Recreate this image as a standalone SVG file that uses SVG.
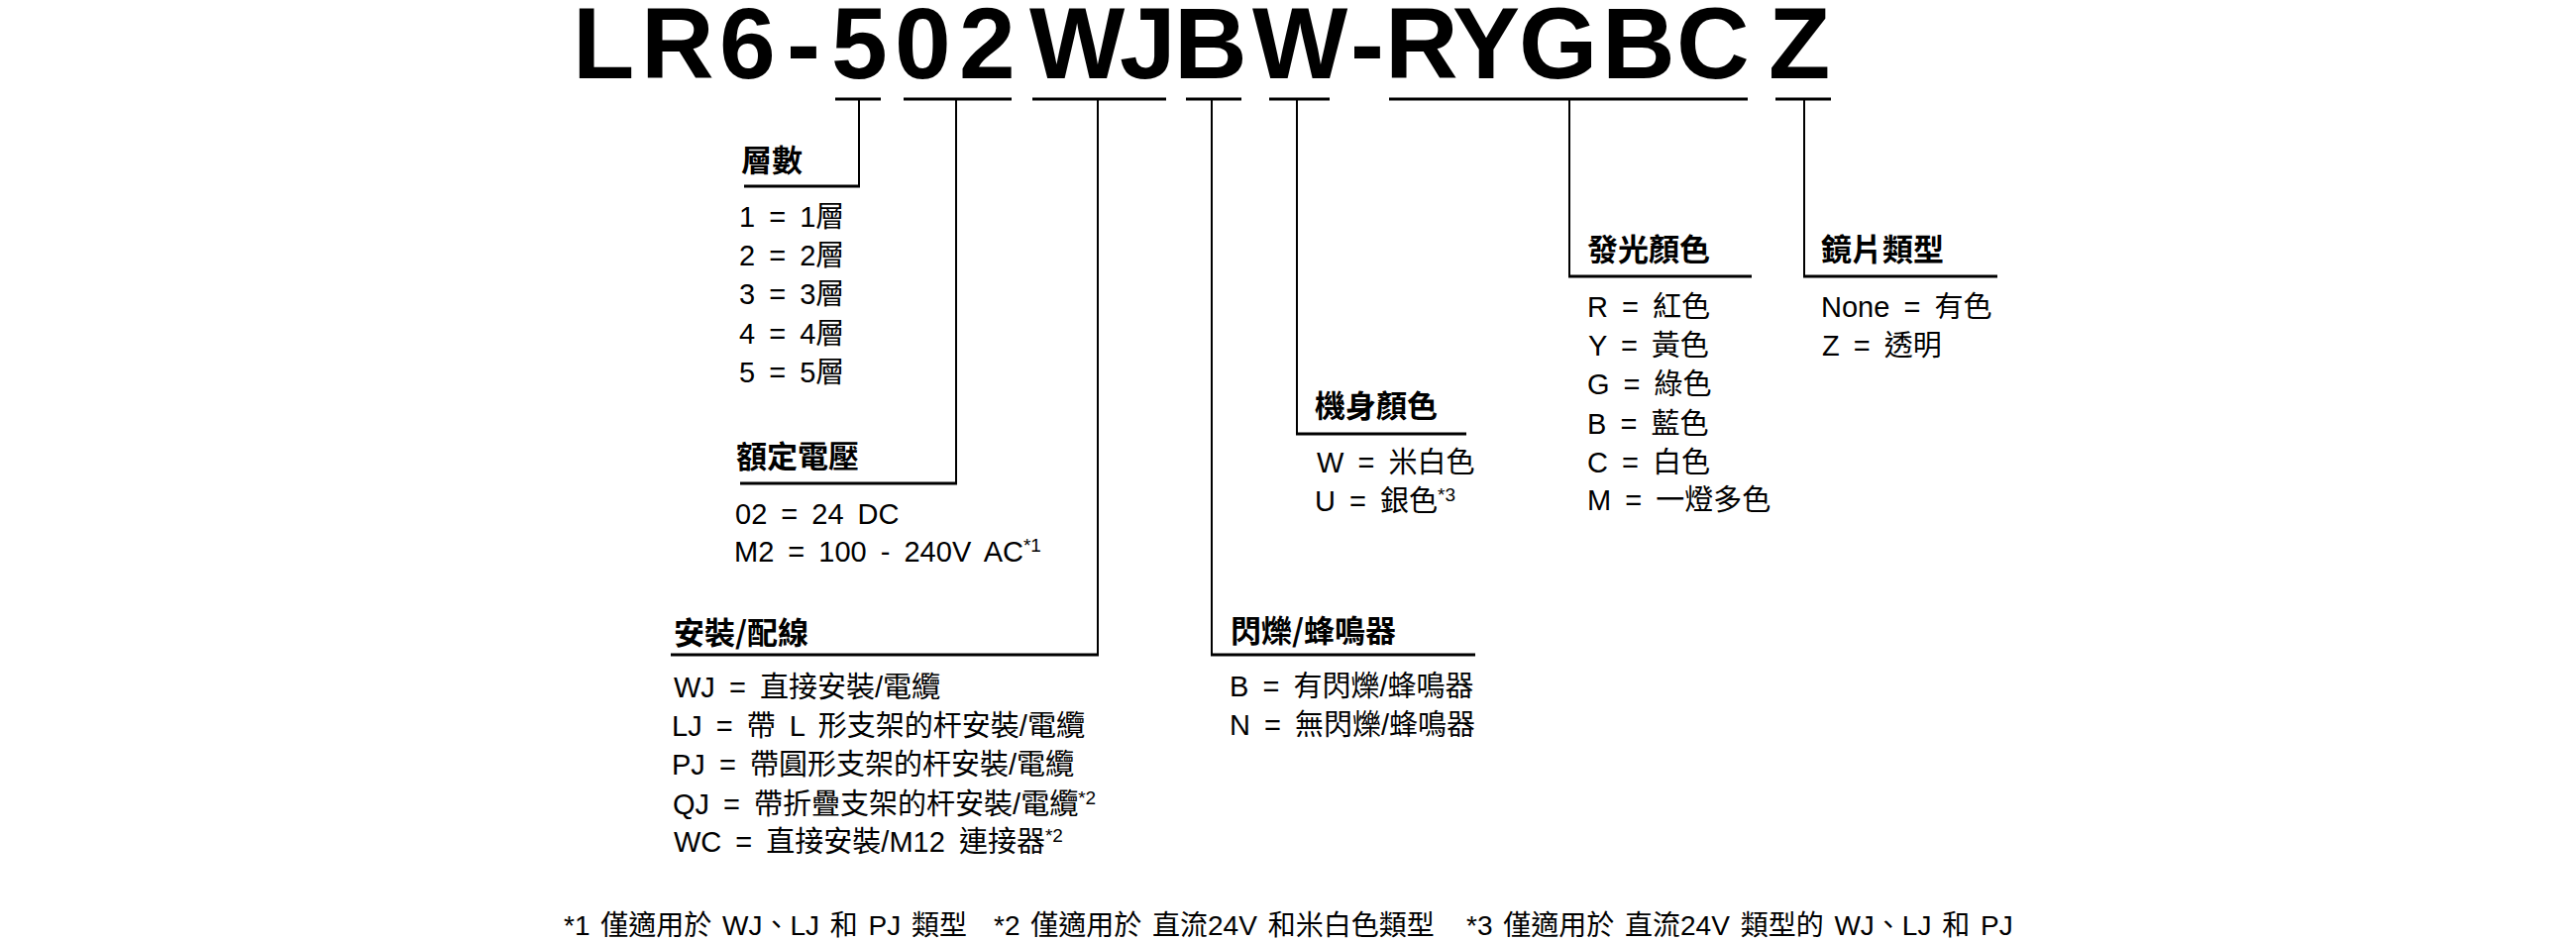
<svg xmlns="http://www.w3.org/2000/svg" width="2600" height="950" viewBox="0 0 2600 950">
<style>
  .title { font-family: "Liberation Sans", Arial, sans-serif; font-weight: bold; font-size: 102px; fill: #000; }
  .head { font-family: "Noto Sans CJK TC", "Liberation Sans", sans-serif; font-weight: bold; font-size: 31px; fill: #000; }
  .item { font-family: "Liberation Sans", "Noto Sans CJK TC", sans-serif; font-size: 29px; word-spacing: 6px; fill: #000; }
  .sup { font-size: 19px; }
  .note { font-family: "Liberation Sans", "Noto Sans CJK TC", sans-serif; font-size: 28px; word-spacing: 3px; fill: #000; }
  .bar { stroke: #000; stroke-width: 3; fill: none; }
  .vert { stroke: #000; stroke-width: 2; fill: none; }
  .under { stroke: #000; stroke-width: 3; fill: none; }
</style>
<rect width="2600" height="950" fill="#fff"/>

<g id="title">
  <text class="title" x="578 647 726 794 839 903 968 1039 1130 1185 1264 1363 1398 1466 1533 1617 1692 1785" y="79">LR6-502WJBW-RYGBCZ</text>
</g>

<g id="connectors">
  <line class="bar" x1="843" y1="100" x2="889" y2="100"/>
  <line class="bar" x1="912" y1="100" x2="1021" y2="100"/>
  <line class="bar" x1="1042" y1="100" x2="1177" y2="100"/>
  <line class="bar" x1="1197" y1="100" x2="1253" y2="100"/>
  <line class="bar" x1="1281" y1="100" x2="1342" y2="100"/>
  <line class="bar" x1="1402" y1="100" x2="1764" y2="100"/>
  <line class="bar" x1="1792" y1="100" x2="1848" y2="100"/>

  <line class="vert" x1="867" y1="100" x2="867" y2="189"/>
  <line class="vert" x1="965" y1="100" x2="965" y2="489"/>
  <line class="vert" x1="1108" y1="100" x2="1108" y2="662"/>
  <line class="vert" x1="1223" y1="100" x2="1223" y2="662"/>
  <line class="vert" x1="1309" y1="100" x2="1309" y2="439"/>
  <line class="vert" x1="1584" y1="100" x2="1584" y2="280"/>
  <line class="vert" x1="1821" y1="100" x2="1821" y2="280"/>

  <line class="under" x1="751" y1="188" x2="868" y2="188"/>
  <line class="under" x1="747" y1="488" x2="966" y2="488"/>
  <line class="under" x1="677" y1="661" x2="1109" y2="661"/>
  <line class="under" x1="1222" y1="661" x2="1489" y2="661"/>
  <line class="under" x1="1308" y1="438" x2="1480" y2="438"/>
  <line class="under" x1="1583" y1="279" x2="1768" y2="279"/>
  <line class="under" x1="1820" y1="279" x2="2016" y2="279"/>
</g>

<g id="layers">
  <text class="head" x="748" y="173">層數</text>
  <text class="item" x="746" y="229">1 = 1層</text>
  <text class="item" x="746" y="268">2 = 2層</text>
  <text class="item" x="746" y="307">3 = 3層</text>
  <text class="item" x="746" y="347">4 = 4層</text>
  <text class="item" x="746" y="386">5 = 5層</text>
</g>

<g id="voltage">
  <text class="head" x="743" y="472">額定電壓</text>
  <text class="item" x="742" y="529">02 = 24 DC</text>
  <text class="item" x="741" y="567">M2 = 100 - 240V AC<tspan class="sup" dy="-10">*1</tspan></text>
</g>

<g id="mounting">
  <text class="head" x="680" y="650">安裝/配線</text>
  <text class="item" x="680" y="704">WJ = 直接安裝/電纜</text>
  <text class="item" x="678" y="743">LJ = 帶 L 形支架的杆安裝/電纜</text>
  <text class="item" x="678" y="782">PJ = 帶圓形支架的杆安裝/電纜</text>
  <text class="item" x="679" y="822">QJ = 帶折疊支架的杆安裝/電纜<tspan class="sup" dy="-10">*2</tspan></text>
  <text class="item" x="680" y="860">WC = 直接安裝/M12 連接器<tspan class="sup" dy="-10">*2</tspan></text>
</g>

<g id="flash">
  <text class="head" x="1242" y="648">閃爍/蜂鳴器</text>
  <text class="item" x="1241" y="703">B = 有閃爍/蜂鳴器</text>
  <text class="item" x="1241" y="742">N = 無閃爍/蜂鳴器</text>
</g>

<g id="body-color">
  <text class="head" x="1327" y="421">機身顏色</text>
  <text class="item" x="1329" y="477">W = 米白色</text>
  <text class="item" x="1327" y="516">U = 銀色<tspan class="sup" dy="-10">*3</tspan></text>
</g>

<g id="light-color">
  <text class="head" x="1602" y="263">發光顏色</text>
  <text class="item" x="1602" y="320">R = 紅色</text>
  <text class="item" x="1603" y="359">Y = 黃色</text>
  <text class="item" x="1602" y="398">G = 綠色</text>
  <text class="item" x="1602" y="438">B = 藍色</text>
  <text class="item" x="1602" y="477">C = 白色</text>
  <text class="item" x="1602" y="515">M = 一燈多色</text>
</g>

<g id="lens">
  <text class="head" x="1838" y="263">鏡片類型</text>
  <text class="item" x="1838" y="320">None = 有色</text>
  <text class="item" x="1839" y="359">Z = 透明</text>
</g>

<g id="footnotes">
  <text class="note" x="569" y="944">*1 僅適用於 WJ、LJ 和 PJ 類型</text>
  <text class="note" x="1003" y="944">*2 僅適用於 直流24V 和米白色類型</text>
  <text class="note" x="1480" y="944">*3 僅適用於 直流24V 類型的 WJ、LJ 和 PJ</text>
</g>
</svg>
